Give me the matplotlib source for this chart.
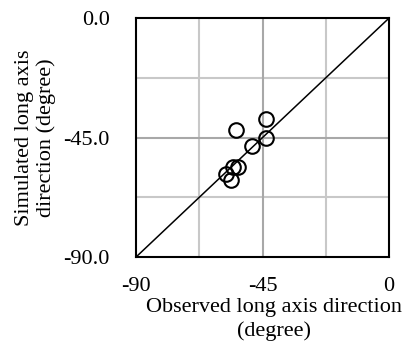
import numpy as np
import matplotlib.pyplot as plt

plt.rcParams['font.family'] = ['Liberation Serif', 'DejaVu Serif']

# observed vs simulated long axis direction (degree)
observed = [-43.6, -43.6, -54.5, -48.7, -53.6, -55.4, -58.0, -56.2]
simulated = [-38.0, -45.0, -42.2, -48.2, -56.0, -56.0, -58.6, -61.1]
xticks = [-90, -45, 0]
yticks = [-90.0, -45.0, 0.0]

fig = plt.figure(figsize=(4.07, 3.47), dpi=100)
ax = fig.add_axes([0.334, 0.259, 0.622, 0.689])

# grid
for v in [-67.5, -22.5]:
    ax.axvline(v, color='#c8c8c8', lw=1.5, zorder=0)
    ax.axhline(v, color='#c8c8c8', lw=1.5, zorder=0)
ax.axvline(-45, color='#a8a8a8', lw=1.5, zorder=0)
ax.axhline(-45, color='#a8a8a8', lw=1.5, zorder=0)

# 1:1 line
ax.plot([-90, 0], [-90, 0], color='black', lw=1.1, zorder=2)

ax.plot(observed, simulated, 'o', ms=10.5, mfc='none', mec='black', mew=1.5, zorder=3)

ax.set_xlim(-90, 0)
ax.set_ylim(-90, 0)
ax.set_xticks(xticks)
ax.set_xticklabels([str(t) for t in xticks])
ax.set_yticks(yticks)
ax.set_yticklabels(['%.1f' % t for t in yticks])
ax.tick_params(length=0, labelsize=16)
ax.tick_params(axis='x', pad=14)
ax.tick_params(axis='y', pad=19)
for s in ax.spines.values():
    s.set_linewidth(1.5)
    s.set_color('black')

ax.set_xlabel('Observed long axis direction\n(degree)', fontsize=16, linespacing=1.25)
ax.xaxis.set_label_coords(0.546, -0.172, transform=ax.transAxes)
ax.xaxis.label.set_va('top')
ax.set_ylabel('Simulated long axis\ndirection (degree)', fontsize=16, labelpad=5, linespacing=1.2)

fig.savefig('out.png', dpi=100)
